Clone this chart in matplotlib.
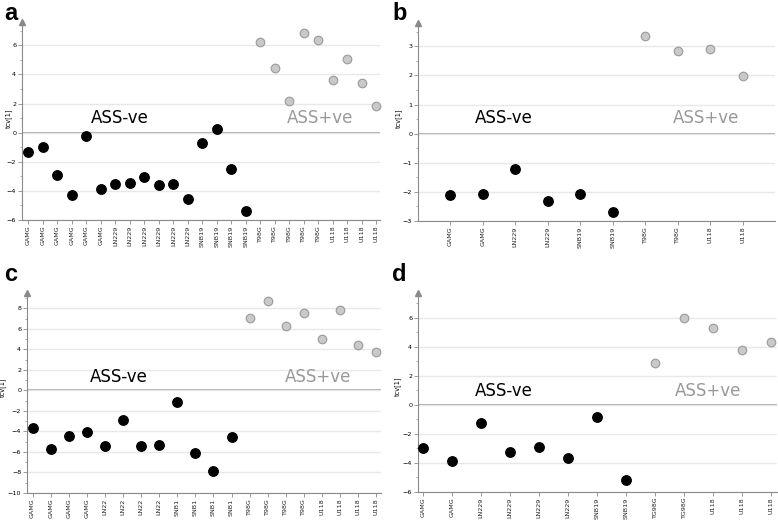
import matplotlib
matplotlib.use("Agg")
import matplotlib.pyplot as plt
from matplotlib.ticker import MultipleLocator

# ---- data ----
a_labels = ["GAMG"] * 6 + ["LN229"] * 6 + ["SNB19"] * 4 + ["T98G"] * 5 + ["U118"] * 4
a_values = [-1.3, -1.0, -2.9, -4.3, -0.23, -3.86,
            -3.56, -3.45, -3.03, -3.59, -3.52, -4.53,
            -0.74, 0.25, -2.5, -5.36,
            6.23, 4.44, 2.16, 6.83, 6.37,
            3.63, 5.03, 3.4, 1.84]
a_pos = [True] * 16 + [False] * 9

b_labels = ["GAMG", "GAMG", "LN229", "LN229", "SNB19", "SNB19", "T98G", "T98G", "U118", "U118"]
b_values = [-2.1, -2.08, -1.2, -2.33, -2.08, -2.68, 3.37, 2.83, 2.92, 1.97]
b_pos = [True] * 6 + [False] * 4

c_labels = ["GAMG"] * 4 + ["LN22"] * 4 + ["SNB1"] * 4 + ["T98G"] * 4 + ["U118"] * 4
c_values = [-3.65, -5.7, -4.44, -4.05,
            -5.38, -2.9, -5.41, -5.28,
            -1.14, -6.13, -7.9, -4.5,
            7.02, 8.68, 6.24, 7.57,
            5.0, 7.8, 4.41, 3.79]
c_pos = [True] * 12 + [False] * 8

d_labels = ["GAMG", "GAMG", "LN229", "LN229", "LN229", "LN229", "SNB19", "SNB19",
            "TG98G", "TG98G", "U118", "U118", "U118"]
d_values = [-3.0, -3.87, -1.26, -3.23, -2.88, -3.64, -0.82, -5.15,
            2.88, 5.95, 5.31, 3.75, 4.35]
d_pos = [True] * 8 + [False] * 5

W, H = 778, 522
fig = plt.figure(figsize=(W / 100, H / 100), dpi=100)
fig.patch.set_facecolor("white")

def box(l, r, t, b):
    return [l / W, 1 - b / H, (r - l) / W, (b - t) / H]

panels = [
    dict(letter="a", rect=box(22, 380, 22, 220), labels=a_labels, values=a_values, neg=a_pos,
         xlim=(-0.44, 24.25), ylim=(-6, 7.6), major=2, minor=1,
         tneg=(4.28, 1.0), tpos=(17.8, 1.0), letter_xy=(4, 20), ylab=(-0.028, 0.515)),
    dict(letter="b", rect=box(418, 775, 23, 221), labels=b_labels, values=b_values, neg=b_pos,
         xlim=(-1.0, 10.0), ylim=(-3, 3.8), major=1, minor=0.5,
         tneg=(0.74, 0.54), tpos=(6.86, 0.54), letter_xy=(392, 20), ylab=(-0.046, 0.52)),
    dict(letter="c", rect=box(27, 381, 293, 493), labels=c_labels, values=c_values, neg=c_pos,
         xlim=(-0.31, 19.26), ylim=(-10, 9.5), major=2, minor=1,
         tneg=(3.19, 1.3), tpos=(13.96, 1.3), letter_xy=(4, 281), ylab=(-0.059, 0.53)),
    dict(letter="d", rect=box(418, 777, 293, 492), labels=d_labels, values=d_values, neg=d_pos,
         xlim=(-0.18, 12.2), ylim=(-6, 7.7), major=2, minor=1,
         tneg=(1.78, 0.92), tpos=(8.67, 0.92), letter_xy=(392, 281), ylab=(-0.048, 0.53)),
]

spine_col = "#8a8a8a"
for p in panels:
    ax = fig.add_axes(p["rect"])
    xs = list(range(len(p["values"])))
    xn = [x for x, n in zip(xs, p["neg"]) if n]
    yn = [v for v, n in zip(p["values"], p["neg"]) if n]
    xp = [x for x, n in zip(xs, p["neg"]) if not n]
    yp = [v for v, n in zip(p["values"], p["neg"]) if not n]
    ax.set_xlim(*p["xlim"])
    ax.set_ylim(*p["ylim"])
    ax.yaxis.set_major_locator(MultipleLocator(p["major"]))
    ax.yaxis.set_minor_locator(MultipleLocator(p["minor"]))
    ax.grid(axis="y", which="major", color="#e8e8e8", lw=1.0, zorder=0)
    ax.axhline(0, color="#a8a8a8", lw=1.4, zorder=1)
    ax.plot(xn, yn, "o", ms=6.8, mfc="black", mec="black", zorder=3, clip_on=False)
    ax.plot(xp, yp, "o", ms=6.2, mfc="#c9c9c9", mec="#9a9a9a", mew=0.8, zorder=3, clip_on=False)
    ax.set_xticks(xs)
    ax.set_xticklabels(p["labels"], rotation=90, fontsize=4.6, color="#222222")
    for s in ("top", "right"):
        ax.spines[s].set_visible(False)
    for s in ("left", "bottom"):
        ax.spines[s].set_color(spine_col)
        ax.spines[s].set_linewidth(0.8)
    ax.tick_params(axis="both", which="major", length=3, width=0.6, color=spine_col,
                   labelsize=4.6, pad=1.2)
    ax.tick_params(axis="y", which="minor", length=1.8, width=0.5, color=spine_col)
    ax.tick_params(axis="x", labelsize=4.6)
    ax.set_ylabel("tcv[1]", fontsize=4.8)
    ax.yaxis.set_label_coords(*p["ylab"])
    ax.plot([0], [1], marker="^", ms=4.5, color="#8a8a8a", transform=ax.transAxes,
            clip_on=False, zorder=4)
    ax.text(p["tneg"][0], p["tneg"][1], "ASS-ve", fontsize=12, color="black",
            ha="left", va="center", family="DejaVu Sans")
    ax.text(p["tpos"][0], p["tpos"][1], "ASS+ve", fontsize=12, color="#999999",
            ha="left", va="center", family="DejaVu Sans")
    lx, ly = p["letter_xy"]
    fig.text(lx / W, 1 - ly / H, p["letter"], fontsize=17, fontweight="bold",
             family="Liberation Sans", ha="left", va="baseline")

fig.savefig("out.png", dpi=100)
